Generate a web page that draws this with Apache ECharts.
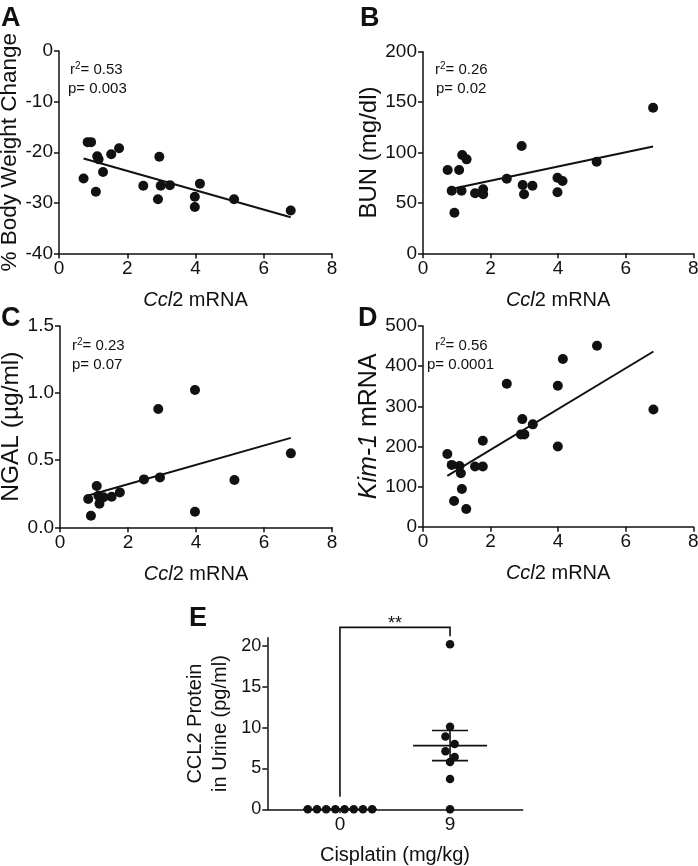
<!DOCTYPE html>
<html>
<head>
<meta charset="utf-8">
<script src="https://cdn.jsdelivr.net/npm/echarts@6/dist/echarts.min.js"></script>
<style>html,body{margin:0;padding:0;background:#fff}#c{width:698px;height:866px}</style>
</head>
<body>
<div id="c"></div>
<script>
// ---------------- DATA ----------------
const ccl2Ticks = [0, 2, 4, 6, 8];
// Panel A: % body weight change vs Ccl2 mRNA
const ccl2A = [0.72, 0.84, 0.94, 1.08, 1.12, 1.16, 1.29, 1.53, 1.76, 2.47, 2.90, 2.94, 2.98, 3.25, 3.98, 3.98, 4.13, 5.13, 6.79];
const weightChange = [-25.2, -18.0, -18.0, -27.8, -20.8, -21.4, -23.9, -20.4, -19.2, -26.6, -29.3, -20.9, -26.6, -26.5, -28.8, -30.8, -26.2, -29.3, -31.5];
const statsA = ['0.53', '0.003'];
// Panel B: BUN vs Ccl2 mRNA
const ccl2B = [0.73, 0.85, 0.93, 1.07, 1.14, 1.16, 1.29, 1.54, 1.78, 1.78, 2.48, 2.92, 2.95, 2.99, 3.24, 3.98, 3.98, 4.13, 5.14, 6.81];
const bun = [82.6, 62.1, 40.3, 82.6, 62.0, 97.5, 93.2, 59.5, 63.5, 58.5, 74.0, 106.4, 67.8, 58.5, 67.0, 75.0, 60.5, 71.7, 90.9, 144.4];
const statsB = ['0.26', '0.02'];
// Panel C: NGAL vs Ccl2 mRNA
const ccl2C = [0.83, 0.91, 1.08, 1.13, 1.16, 1.28, 1.52, 1.76, 2.47, 2.89, 2.94, 3.97, 3.97, 5.13, 6.79];
const ngal = [0.211, 0.086, 0.308, 0.235, 0.176, 0.224, 0.228, 0.260, 0.357, 0.882, 0.372, 1.023, 0.116, 0.352, 0.551];
const statsC = ['0.23', '0.07'];
// Panel D: Kim-1 mRNA vs Ccl2 mRNA
const ccl2D = [0.72, 0.85, 0.92, 1.08, 1.12, 1.15, 1.28, 1.54, 1.77, 1.77, 2.48, 2.90, 2.94, 3.00, 3.25, 3.99, 3.99, 4.14, 5.15, 6.82];
const kim1 = [181, 154, 64, 151, 133, 94, 44, 150, 150, 214, 356, 230, 268, 230, 255, 351, 200, 418, 451, 292];
const statsD = ['0.56', '0.0001'];
// Panel E: urinary CCL2 protein by cisplatin dose
const cisplatinDoses = ['0', '9'];
const urineCcl2Dose0 = [0, 0, 0, 0, 0, 0, 0, 0];
const urineCcl2Dose9 = [20.2, 10.1, 8.9, 8.0, 7.1, 6.4, 5.8, 3.7, 0];
const urineTicks = [0, 5, 10, 15, 20];
const significance = '**';

// ---------------- RENDER ----------------
const FONT = '"Liberation Sans", Arial, Helvetica, sans-serif';
const INK = '#111111';

function fitLine(xs, ys) {
  const n = xs.length;
  const mx = xs.reduce((a, b) => a + b, 0) / n;
  const my = ys.reduce((a, b) => a + b, 0) / n;
  let sxy = 0, sxx = 0;
  for (let i = 0; i < n; i++) { sxy += (xs[i] - mx) * (ys[i] - my); sxx += (xs[i] - mx) ** 2; }
  const b = sxy / sxx, a = my - b * mx;
  const x0 = Math.min(...xs), x1 = Math.max(...xs);
  return [[x0, a + b * x0], [x1, a + b * x1]];
}
function meanSem(v) {
  const n = v.length, m = v.reduce((a, b) => a + b, 0) / n;
  const sd = Math.sqrt(v.reduce((a, b) => a + (b - m) ** 2, 0) / (n - 1));
  return [m, sd / Math.sqrt(n)];
}
const zip = (xs, ys) => xs.map((x, i) => [x, ys[i]]);

function nameStyle(size, extra) {
  return Object.assign({
    color: INK, fontFamily: FONT, fontSize: size,
    rich: { i: { fontStyle: 'italic', fontFamily: FONT, fontSize: size, color: INK } }
  }, extra || {});
}
function axis(o) {
  return Object.assign({
    type: 'value',
    axisLine: { onZero: false, lineStyle: { color: INK, width: 1.5 } },
    axisTick: { show: true, length: 5, lineStyle: { color: INK, width: 1.5 } },
    axisLabel: { color: INK, fontFamily: FONT, fontSize: 19, margin: 6 },
    splitLine: { show: false },
    nameLocation: 'middle',
    nameTextStyle: nameStyle(20)
  }, o);
}
const ccl2Name = '{i|Ccl}2 mRNA';

const grids = [
  { left: 59, top: 51, width: 273, height: 202.5 },
  { left: 423, top: 51.7, width: 270.3, height: 201.6 },
  { left: 60, top: 326, width: 272, height: 201.3 },
  { left: 423, top: 326, width: 270.3, height: 200.7 },
  { left: 267.3, top: 637.8, width: 255.4, height: 171.5 }
].map(g => Object.assign({ containLabel: false, outerBoundsMode: 'none' }, g));

const xAxes = [0, 1, 2, 3].map(i => axis({ gridIndex: i, min: ccl2Ticks[0], max: ccl2Ticks[ccl2Ticks.length - 1], interval: ccl2Ticks[1] - ccl2Ticks[0], name: ccl2Name, nameGap: 37 }));
xAxes.push(axis({
  gridIndex: 4, min: -0.66, max: 1.66, name: 'Cisplatin (mg/kg)', nameGap: 36,
  axisLabel: { color: INK, fontFamily: FONT, fontSize: 19, margin: 6, customValues: [0, 1], formatter: v => cisplatinDoses[Math.round(v)] },
  axisTick: { show: true, length: 4, customValues: [0, 1], lineStyle: { color: INK, width: 1.5 } }
}));
const yAxes = [
  axis({ gridIndex: 0, min: -40, max: 0, interval: 10, name: '% Body Weight Change', nameGap: 30, nameTextStyle: nameStyle(22.5) }),
  axis({ gridIndex: 1, min: 0, max: 200, interval: 50, name: 'BUN (mg/dl)', nameGap: 34, nameTextStyle: nameStyle(24) }),
  axis({ gridIndex: 2, min: 0, max: 1.5, interval: 0.5, name: 'NGAL (µg/ml)', nameGap: 29, nameTextStyle: nameStyle(24.5),
         axisLabel: { color: INK, fontFamily: FONT, fontSize: 19, margin: 6, formatter: v => v.toFixed(1) } }),
  axis({ gridIndex: 3, min: 0, max: 500, interval: 100, name: '{i|Kim-1} mRNA', nameGap: 34, nameTextStyle: nameStyle(25) }),
  axis({ gridIndex: 4, min: 0, max: 21, interval: 5, name: 'CCL2 Protein\nin Urine (pg/ml)', nameGap: 34,
         nameTextStyle: nameStyle(20, { lineHeight: 25 }),
         axisLabel: { color: INK, fontFamily: FONT, fontSize: 18, margin: 6, customValues: urineTicks },
         axisTick: { show: true, length: 5, customValues: urineTicks, lineStyle: { color: INK, width: 1.5 } } })
];

const panels = [[ccl2A, weightChange], [ccl2B, bun], [ccl2C, ngal], [ccl2D, kim1]];
const series = [];
panels.forEach(([xs, ys], i) => {
  series.push({ type: 'line', xAxisIndex: i, yAxisIndex: i, data: fitLine(xs, ys), symbol: 'none', silent: true,
                lineStyle: { color: INK, width: 2 }, z: 2 });
  series.push({ type: 'scatter', xAxisIndex: i, yAxisIndex: i, data: zip(xs, ys), symbolSize: 10,
                itemStyle: { color: INK, opacity: 1 }, z: 3 });
});

function statText(x, y, r2, p, px) {
  return [
    { type: 'text', x: x, y: y, style: { text: 'r{s|2}= ' + r2, fill: INK, font: '15px ' + FONT, verticalAlign: 'middle', textVerticalAlign: 'middle',
      rich: { s: { fontSize: 10, fontFamily: FONT, fill: INK, color: INK, verticalAlign: 'top', padding: [0, 0, 8, 0] } } } },
    { type: 'text', x: px, y: y + 19, style: { text: 'p= ' + p, fill: INK, font: '15px ' + FONT, verticalAlign: 'middle', textVerticalAlign: 'middle' } }
  ];
}
function letter(t, x, y) {
  return { type: 'text', x: x, y: y, style: { text: t, fill: INK, font: 'bold 27px ' + FONT, verticalAlign: 'middle', textVerticalAlign: 'middle' } };
}
const graphic = [
  letter('A', 1, 19), letter('B', 360, 19), letter('C', 1, 319), letter('D', 358, 319), letter('E', 189, 619),
  ...statText(70, 70, statsA[0], statsA[1], 68),
  ...statText(435, 70, statsB[0], statsB[1], 436),
  ...statText(72, 346, statsC[0], statsC[1], 72),
  ...statText(435, 346, statsD[0], statsD[1], 427)
];

const chart = echarts.init(document.getElementById('c'), null, { renderer: 'canvas' });
chart.setOption({
  animation: false, backgroundColor: '#fff',
  textStyle: { fontFamily: FONT },
  grid: grids, xAxis: xAxes, yAxis: yAxes, series: series, graphic: graphic
});

// ---- Panel E: beeswarm layout computed in pixel space ----
const groups = [urineCcl2Dose0, urineCcl2Dose9];
const toPx = v => chart.convertToPixel({ gridIndex: 4 }, v);
const fromPx = p => chart.convertFromPixel({ gridIndex: 4 }, p);
const ROW = 9.5, GAP = 9.2;
const swarm = [];
groups.forEach((vals, gi) => {
  const cx = toPx([gi, 0])[0];
  const sorted = vals.slice().sort((a, b) => b - a);
  const rows = [];
  sorted.forEach(v => {
    const py = toPx([gi, v])[1];
    const last = rows[rows.length - 1];
    if (last && py - last.py0 < ROW) last.items.push([v, py]);
    else rows.push({ py0: py, items: [[v, py]] });
  });
  rows.forEach(r => {
    const k = r.items.length;
    r.items.forEach(([v, py], j) => {
      const px = cx + (j - (k - 1) / 2) * GAP;
      swarm.push([fromPx([px, py])[0], v]);
    });
  });
});
const stats = groups.map((g, i) => [i, ...meanSem(g)]);
const maxAll = Math.max(...groups.map(g => Math.max(...g)));

series.push({ type: 'scatter', xAxisIndex: 4, yAxisIndex: 4, data: swarm, symbolSize: 8.5, itemStyle: { color: INK, opacity: 1 }, z: 3 });
series.push({
  type: 'custom', xAxisIndex: 4, yAxisIndex: 4, data: stats, z: 4, silent: true,
  renderItem: (params, api) => {
    const x = api.value(0), m = api.value(1), s = api.value(2);
    const c = api.coord([x, m]), hi = api.coord([x, m + s]), lo = api.coord([x, m - s]);
    const st = { stroke: INK, lineWidth: 1.6 };
    const W = 37, C = 18;
    return { type: 'group', children: [
      { type: 'line', shape: { x1: c[0] - W, y1: c[1], x2: c[0] + W, y2: c[1] }, style: st },
      { type: 'line', shape: { x1: c[0] - C, y1: hi[1], x2: c[0] + C, y2: hi[1] }, style: st },
      { type: 'line', shape: { x1: c[0] - C, y1: lo[1], x2: c[0] + C, y2: lo[1] }, style: st },
      { type: 'line', shape: { x1: c[0], y1: hi[1], x2: c[0], y2: lo[1] }, style: st }
    ] };
  }
});
series.push({
  type: 'custom', xAxisIndex: 4, yAxisIndex: 4, data: [[0, 1]], z: 4, silent: true, clip: false,
  renderItem: (params, api) => {
    const a = api.coord([0, Math.max(...groups[0])]);
    const b = api.coord([1, Math.max(...groups[1])]);
    const topY = api.coord([0, maxAll])[1] - 17;
    return { type: 'group', children: [
      { type: 'polyline', shape: { points: [[a[0], a[1] - 12.5], [a[0], topY], [b[0], topY], [b[0], b[1] - 8]] },
        style: { stroke: INK, lineWidth: 1.6, fill: null } },
      { type: 'text', x: (a[0] + b[0]) / 2, y: topY - 3.7,
        style: { text: significance, fill: INK, font: '18px ' + FONT, align: 'center', textAlign: 'center', verticalAlign: 'middle', textVerticalAlign: 'middle' } }
    ] };
  }
});
chart.setOption({ series: series });
</script>
</body>
</html>
